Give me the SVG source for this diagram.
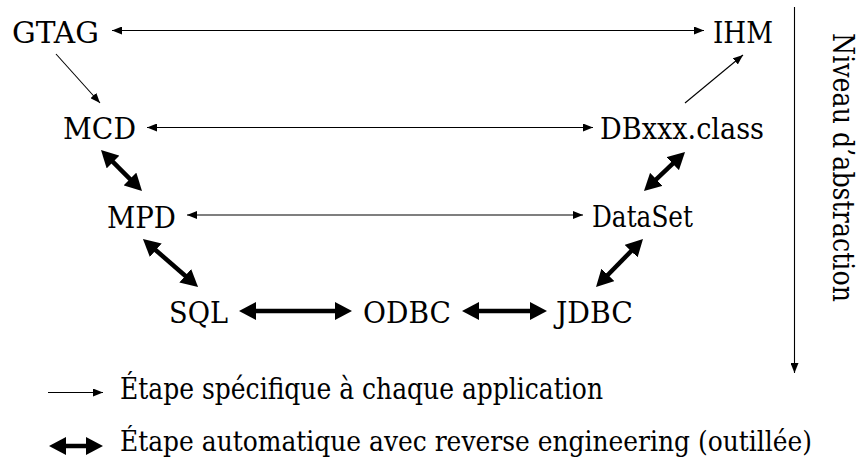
<svg xmlns="http://www.w3.org/2000/svg" width="867" height="466" viewBox="0 0 867 466">
  <defs>
    <!-- small head for the specific (hand-made) steps -->
    <marker id="head-thin" markerUnits="userSpaceOnUse" markerWidth="10" markerHeight="8" refX="10" refY="4" orient="auto-start-reverse">
      <path d="M0,0 L10,4 L0,8 Z" fill="#000"/>
    </marker>
    <!-- large head for the automatic (tool-assisted) steps -->
    <marker id="head-thick" markerUnits="userSpaceOnUse" markerWidth="17" markerHeight="18" refX="3" refY="9" orient="auto-start-reverse">
      <path d="M0,0 L17,9 L0,18 Z" fill="#000"/>
    </marker>
  </defs>
  <style>
    text { font-family: "DejaVu Serif", "Liberation Serif", serif; font-size: 29px; fill: #000; }
    .legend-low { font-size: 28px; }
    .thin { stroke: #000; stroke-width: 1.1; fill: none; marker-end: url(#head-thin); }
    .thin2 { stroke: #000; stroke-width: 1.1; fill: none; marker-start: url(#head-thin); marker-end: url(#head-thin); }
    .thick2 { stroke: #000; stroke-width: 4.5; fill: none; marker-start: url(#head-thick); marker-end: url(#head-thick); }
  </style>
  <rect width="867" height="466" fill="#fff"/>

  <g id="connectors">
    <!-- horizontal specific steps -->
    <line class="thin2" x1="112" y1="30.5" x2="704" y2="30.5"/>
    <line class="thin2" x1="147" y1="127.5" x2="593" y2="127.5"/>
    <line class="thin2" x1="187" y1="215" x2="583" y2="215"/>
    <!-- diagonal specific steps -->
    <line class="thin" x1="56" y1="54" x2="100" y2="103"/>
    <line class="thin" x1="685" y1="103" x2="743" y2="55"/>
    <!-- automatic steps -->
    <line class="thick2" x1="110.9" y1="159.9" x2="132.1" y2="181.1"/>
    <line class="thick2" x1="674.9" y1="161.6" x2="654.1" y2="181.4"/>
    <line class="thick2" x1="153.5" y1="248.2" x2="187.5" y2="277.8"/>
    <line class="thick2" x1="633.2" y1="249" x2="605.8" y2="277"/>
    <line class="thick2" x1="253" y1="311" x2="338" y2="311"/>
    <line class="thick2" x1="476" y1="311" x2="533" y2="311"/>
  </g>

  <g id="node-gtag"><text x="12" y="43" textLength="87" lengthAdjust="spacingAndGlyphs">GTAG</text></g>
  <g id="node-ihm"><text x="713" y="43" textLength="60" lengthAdjust="spacingAndGlyphs">IHM</text></g>
  <g id="node-mcd"><text x="63" y="139" textLength="73" lengthAdjust="spacingAndGlyphs">MCD</text></g>
  <g id="node-dbclass"><text x="600" y="139" textLength="164" lengthAdjust="spacingAndGlyphs">DBxxx.class</text></g>
  <g id="node-mpd"><text x="107" y="228" textLength="69" lengthAdjust="spacingAndGlyphs">MPD</text></g>
  <g id="node-dataset"><text x="592" y="227" textLength="101" lengthAdjust="spacingAndGlyphs">DataSet</text></g>
  <g id="node-sql"><text x="169" y="323" textLength="59" lengthAdjust="spacingAndGlyphs">SQL</text></g>
  <g id="node-odbc"><text x="363" y="323" textLength="88" lengthAdjust="spacingAndGlyphs">ODBC</text></g>
  <g id="node-jdbc"><text x="556" y="323" textLength="77" lengthAdjust="spacingAndGlyphs">JDBC</text></g>

  <!-- abstraction axis -->
  <g id="axis">
    <line class="thin" x1="794.5" y1="7" x2="794.5" y2="373"/>
    <text transform="translate(833,33) rotate(90)" textLength="269" lengthAdjust="spacingAndGlyphs">Niveau d’abstraction</text>
  </g>

  <!-- legend -->
  <g id="legend">
    <line class="thin" x1="48" y1="392.5" x2="103" y2="392.5"/>
    <text x="120" y="399" textLength="483" lengthAdjust="spacingAndGlyphs">Étape spécifique à chaque application</text>
    <line class="thick2" x1="63" y1="446" x2="89" y2="446"/>
    <text class="legend-low" x="120" y="451" textLength="692" lengthAdjust="spacingAndGlyphs">Étape automatique avec reverse engineering (outillée)</text>
  </g>
</svg>
